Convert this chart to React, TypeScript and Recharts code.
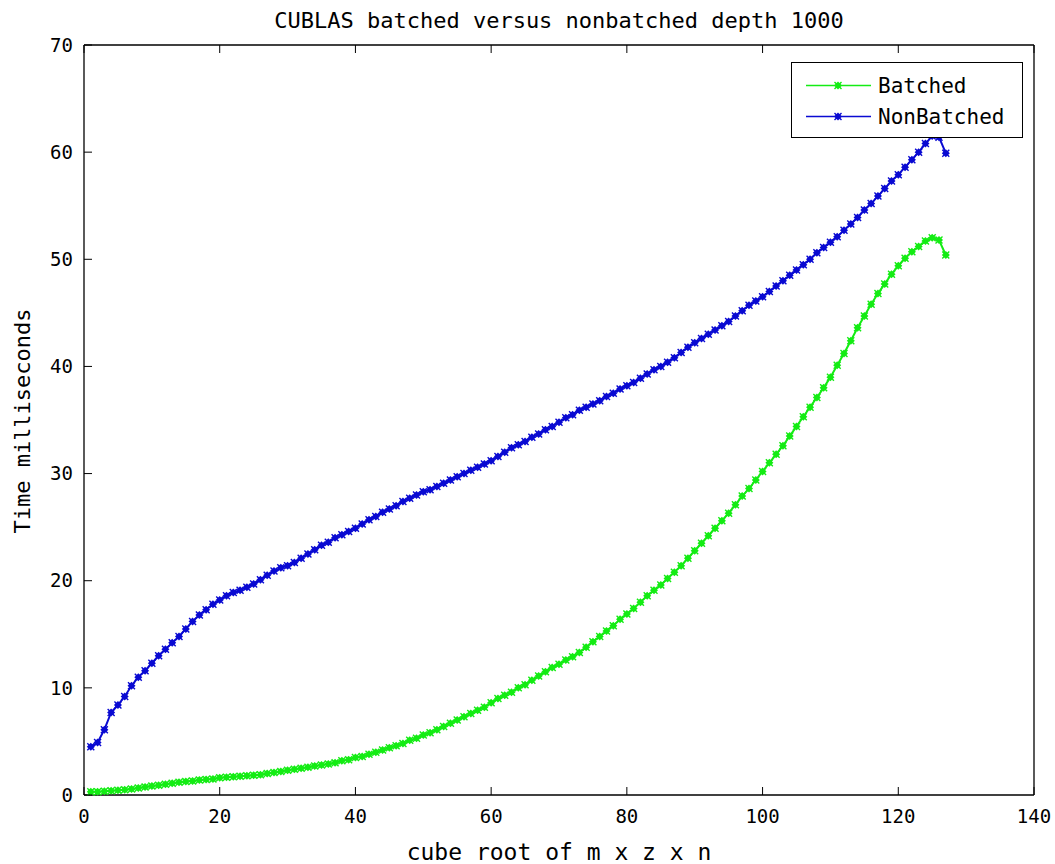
import React from "react";
import { LineChart, Line, XAxis, YAxis } from "recharts";

const sizes = [
  1, 2, 3, 4, 5, 6, 7, 8, 9, 10, 11, 12, 13, 14, 15, 16, 17, 18, 19, 20,
  21, 22, 23, 24, 25, 26, 27, 28, 29, 30, 31, 32, 33, 34, 35, 36, 37, 38, 39, 40,
  41, 42, 43, 44, 45, 46, 47, 48, 49, 50, 51, 52, 53, 54, 55, 56, 57, 58, 59, 60,
  61, 62, 63, 64, 65, 66, 67, 68, 69, 70, 71, 72, 73, 74, 75, 76, 77, 78, 79, 80,
  81, 82, 83, 84, 85, 86, 87, 88, 89, 90, 91, 92, 93, 94, 95, 96, 97, 98, 99, 100,
  101, 102, 103, 104, 105, 106, 107, 108, 109, 110, 111, 112, 113, 114, 115, 116, 117, 118, 119, 120,
  121, 122, 123, 124, 125, 126, 127,
];

const batched = [
  0.3, 0.3, 0.35, 0.4, 0.45, 0.5, 0.55, 0.65, 0.75, 0.85,
  0.9, 1.0, 1.1, 1.2, 1.25, 1.3, 1.4, 1.45, 1.5, 1.6,
  1.65, 1.7, 1.75, 1.8, 1.85, 1.9, 2.0, 2.1, 2.2, 2.3,
  2.4, 2.5, 2.6, 2.7, 2.8, 2.9, 3.0, 3.2, 3.3, 3.5,
  3.6, 3.8, 4.0, 4.2, 4.4, 4.6, 4.8, 5.1, 5.3, 5.6,
  5.8, 6.1, 6.4, 6.7, 7.0, 7.3, 7.6, 7.9, 8.2, 8.6,
  9.0, 9.3, 9.6, 10.0, 10.3, 10.7, 11.1, 11.5, 11.9, 12.2,
  12.6, 12.9, 13.3, 13.8, 14.3, 14.8, 15.3, 15.8, 16.4, 16.9,
  17.4, 18.0, 18.6, 19.1, 19.6, 20.2, 20.8, 21.4, 22.1, 22.8,
  23.5, 24.2, 24.9, 25.6, 26.3, 27.1, 27.9, 28.6, 29.4, 30.2,
  31.0, 31.8, 32.6, 33.5, 34.4, 35.3, 36.2, 37.1, 38.0, 39.0,
  40.1, 41.2, 42.4, 43.6, 44.7, 45.8, 46.8, 47.7, 48.6, 49.4,
  50.1, 50.7, 51.2, 51.7, 52.0, 51.8, 50.4,
];

const nonBatched = [
  4.5, 4.9, 6.1, 7.7, 8.4, 9.2, 10.2, 11.0, 11.6, 12.3,
  13.0, 13.6, 14.2, 14.8, 15.5, 16.2, 16.8, 17.3, 17.8, 18.2,
  18.6, 18.9, 19.1, 19.4, 19.7, 20.1, 20.5, 20.9, 21.2, 21.4,
  21.7, 22.1, 22.5, 22.9, 23.3, 23.6, 24.0, 24.3, 24.6, 24.9,
  25.3, 25.7, 26.0, 26.4, 26.7, 27.0, 27.4, 27.7, 28.0, 28.3,
  28.5, 28.8, 29.1, 29.4, 29.7, 30.0, 30.3, 30.6, 30.9, 31.2,
  31.6, 32.0, 32.4, 32.7, 33.0, 33.4, 33.7, 34.1, 34.4, 34.8,
  35.2, 35.5, 35.9, 36.2, 36.5, 36.8, 37.2, 37.5, 37.9, 38.2,
  38.5, 38.9, 39.3, 39.7, 40.0, 40.4, 40.8, 41.3, 41.8, 42.2,
  42.6, 43.0, 43.4, 43.8, 44.2, 44.7, 45.2, 45.7, 46.1, 46.5,
  47.0, 47.5, 48.0, 48.5, 49.0, 49.5, 50.0, 50.6, 51.1, 51.6,
  52.1, 52.7, 53.3, 53.9, 54.6, 55.2, 55.9, 56.6, 57.3, 57.9,
  58.6, 59.3, 60.0, 60.8, 61.5, 61.4, 59.9,
];

const xTicks = [0, 20, 40, 60, 80, 100, 120, 140];
const yTicks = [0, 10, 20, 30, 40, 50, 60, 70];

const GREEN = "#14ec14";
const BLUE = "#0a0ad2";
const FONT = "'DejaVu Sans Mono', monospace";

const data = sizes.map((s, i) => ({ size: s, batched: batched[i], nonBatched: nonBatched[i] }));

function Marker({ cx, cy, color }: { cx: number; cy: number; color: string }) {
  const r = 4;
  return (
    <g>
      <path d={`M${cx},${cy - r}L${cx + r},${cy}L${cx},${cy + r}L${cx - r},${cy}Z`} fill={color} />
      <path d={`M${cx - 3.5},${cy - 3.5}L${cx + 3.5},${cy + 3.5}M${cx - 3.5},${cy + 3.5}L${cx + 3.5},${cy - 3.5}`} stroke={color} strokeWidth={1.4} />
    </g>
  );
}

const dotFor = (color: string) => (props: any) => (
  <Marker key={`${color}-${props.index}`} cx={props.cx} cy={props.cy} color={color} />
);

// ticks drawn inward, matlab style
const BottomTick = ({ x, y, payload }: any) => (
  <g>
    <line x1={x} x2={x} y1={y - 15} y2={y - 23} stroke="#000" />
    <text x={x} y={y} dy="0.71em" textAnchor="middle" fontSize={19} fontFamily={FONT} fill="#000">
      {payload.value}
    </text>
  </g>
);
const TopTick = ({ x, y }: any) => <line x1={x} x2={x} y1={y} y2={y + 8} stroke="#000" />;
const LeftTick = ({ x, y, payload }: any) => (
  <g>
    <line x1={x + 11} x2={x + 19} y1={y} y2={y} stroke="#000" />
    <text x={x} y={y} dy="0.35em" textAnchor="end" fontSize={19} fontFamily={FONT} fill="#000">
      {payload.value}
    </text>
  </g>
);
const RightTick = ({ x, y }: any) => <line x1={x - 8} x2={x} y1={y} y2={y} stroke="#000" />;

function LegendBox() {
  const rows = [
    { name: "Batched", color: GREEN },
    { name: "NonBatched", color: BLUE },
  ];
  return (
    <div
      style={{
        position: "absolute",
        left: 791,
        top: 62,
        width: 232,
        height: 76,
        boxSizing: "border-box",
        border: "1px solid #000",
        background: "#fff",
        paddingTop: 7,
        fontFamily: FONT,
        fontSize: 21,
        color: "#000",
      }}
    >
      {rows.map((r) => (
        <div key={r.name} style={{ display: "flex", alignItems: "center", height: 31 }}>
          <svg width={82} height={31}>
            <line x1={14} x2={79} y1={15.5} y2={15.5} stroke={r.color} strokeWidth={1.5} />
            <Marker cx={46} cy={15.5} color={r.color} />
          </svg>
          <span style={{ marginLeft: 4 }}>{r.name}</span>
        </div>
      ))}
    </div>
  );
}

export default function App() {
  return (
    <div style={{ position: "absolute", left: 0, top: 0, width: 1055, height: 864, background: "#fff" }}>
      <div
        style={{
          position: "absolute",
          top: 8,
          left: 84,
          width: 950,
          textAlign: "center",
          fontFamily: FONT,
          fontSize: 22,
          color: "#000",
        }}
      >
        CUBLAS batched versus nonbatched depth 1000
      </div>
      <div
        style={{
          position: "absolute",
          left: 22,
          top: 421,
          transform: "translate(-50%, -50%) rotate(-90deg)",
          whiteSpace: "nowrap",
          fontFamily: FONT,
          fontSize: 22,
          color: "#000",
        }}
      >
        Time milliseconds
      </div>
      <LineChart width={1055} height={864} data={data} margin={{ top: 44, right: 0, bottom: 0, left: 0 }}>
        <XAxis
          dataKey="size"
          type="number"
          domain={[0, 140]}
          ticks={xTicks}
          interval={0}
          height={69}
          tickSize={0}
          tickMargin={15}
          tickLine={false}
          tick={<BottomTick />}
          axisLine={{ stroke: "#000", strokeWidth: 1.3 }}
          label={{ value: "cube root of m x z x n", position: "insideBottom", offset: 4, fill: "#000", fontSize: 23, fontFamily: FONT }}
        />
        <XAxis
          xAxisId="top"
          orientation="top"
          dataKey="size"
          type="number"
          domain={[0, 140]}
          ticks={xTicks}
          interval={0}
          height={1}
          tickSize={0}
          tickMargin={0}
          tickLine={false}
          tick={<TopTick />}
          axisLine={{ stroke: "#000", strokeWidth: 1.3 }}
        />
        <YAxis
          type="number"
          domain={[0, 70]}
          ticks={yTicks}
          interval={0}
          width={84}
          tickSize={0}
          tickMargin={11}
          tickLine={false}
          tick={<LeftTick />}
          axisLine={{ stroke: "#000", strokeWidth: 1.3 }}
        />
        <YAxis
          yAxisId="right"
          orientation="right"
          type="number"
          domain={[0, 70]}
          ticks={yTicks}
          interval={0}
          width={21}
          tickSize={0}
          tickMargin={0}
          tickLine={false}
          tick={<RightTick />}
          axisLine={{ stroke: "#000", strokeWidth: 1.3 }}
        />
        <Line
          dataKey="batched"
          name="Batched"
          stroke={GREEN}
          strokeWidth={2}
          dot={dotFor(GREEN)}
          isAnimationActive={false}
        />
        <Line
          dataKey="nonBatched"
          name="NonBatched"
          stroke={BLUE}
          strokeWidth={2}
          dot={dotFor(BLUE)}
          isAnimationActive={false}
        />
      </LineChart>
      <LegendBox />
    </div>
  );
}
